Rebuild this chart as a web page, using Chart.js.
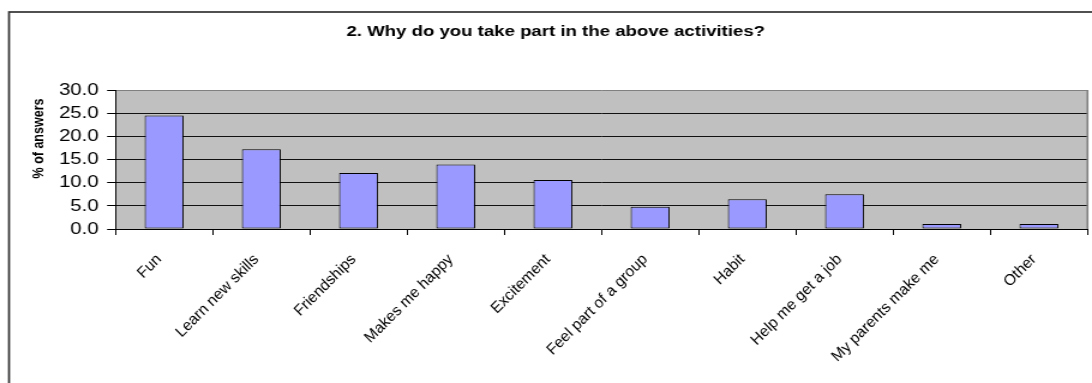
<!DOCTYPE html>
<html>
<head>
<meta charset="utf-8">
<script src="https://cdn.jsdelivr.net/npm/chart.js@4.4.1/dist/chart.umd.min.js"></script>
<style>
  html, body { margin: 0; padding: 0; background: #fff; }
</style>
</head>
<body>
<!-- drawn on a narrower canvas, shown stretched to full width -->
<canvas id="chart" width="910" height="383" style="display:block;width:1092px;height:383px"></canvas>
<script>
// -------- datos ----------
const titleText  = "2. Why do you take part in the above activities?";
const yTitleText = "% of answers";
const reasons = [
  "Fun", "Learn new skills", "Friendships", "Makes me happy", "Excitement",
  "Feel part of a group", "Habit", "Help me get a job", "My parents make me", "Other"
];
const pctAnswers = [24.5, 17.2, 12.1, 13.9, 10.6, 4.8, 6.4, 7.5, 1.1, 1.1];
const yTicks = [0, 5, 10, 15, 20, 25, 30];

const FONT = "'Liberation Sans', Arial, sans-serif";
const STRETCH = 1092 / 910;   // ancho CSS / ancho del canvas

// -------- fondo, marco, títulos y etiquetas X ----------
const framePlugin = {
  id: "frame",
  beforeDraw(chart) {
    const { ctx, chartArea: a } = chart;
    ctx.save();
    ctx.fillStyle = "#fff";
    ctx.fillRect(0, 0, chart.width, chart.height);
    ctx.fillStyle = "#c0c0c0";
    ctx.fillRect(a.left, a.top, a.right - a.left, a.bottom - a.top);
    ctx.restore();
  },
  beforeDatasetsDraw(chart) {
    const { ctx, chartArea: a } = chart;
    ctx.save();
    ctx.strokeStyle = "#808080";
    ctx.lineWidth = 1.6;
    ctx.beginPath();
    ctx.moveTo(a.right, a.top);
    ctx.lineTo(a.right, a.bottom);
    ctx.stroke();
    ctx.restore();
  },
  afterDraw(chart) {
    const { ctx, chartArea: a } = chart;
    const xs = chart.scales.x;

    // borde exterior (se sale por la derecha y por abajo)
    ctx.save();
    ctx.strokeStyle = "#333";
    ctx.lineWidth = 1.7;
    ctx.strokeRect(7.5, 12, chart.width + 10, chart.height + 10);
    ctx.restore();

    // título del eje Y
    ctx.save();
    ctx.translate(a.left - 64, (a.top + a.bottom) / 2 - 21);
    ctx.rotate(-Math.PI / 2);
    ctx.fillStyle = "#000";
    ctx.font = `bold 12.5px ${FONT}`;
    ctx.textAlign = "center";
    ctx.textBaseline = "middle";
    ctx.fillText(yTitleText, 0, 0);
    ctx.restore();

    // etiquetas X a 45°, sin la deformación del estirado
    ctx.save();
    ctx.fillStyle = "#000";
    ctx.font = `15.5px ${FONT}`;
    ctx.textAlign = "right";
    ctx.textBaseline = "middle";
    reasons.forEach((lbl, i) => {
      ctx.save();
      ctx.translate(xs.getPixelForTick(i) - 5 / STRETCH, a.bottom + 28);
      ctx.scale(1 / STRETCH, 1);
      ctx.rotate(-Math.PI / 4);
      ctx.fillText(lbl, 0, 0);
      ctx.restore();
    });
    ctx.restore();
  }
};

new Chart(document.getElementById("chart"), {
  type: "bar",
  data: {
    labels: reasons,
    datasets: [{
      data: pctAnswers,
      backgroundColor: "#9999ff",
      borderColor: "#000",
      borderWidth: 1,
      borderSkipped: false,
      categoryPercentage: 1,
      barPercentage: 0.4
    }]
  },
  options: {
    responsive: false,
    animation: false,
    devicePixelRatio: 1,
    layout: { padding: { left: 20, right: 3.75, top: 0, bottom: 0 } },
    plugins: {
      legend: { display: false },
      tooltip: { enabled: false },
      title: {
        display: true,
        text: titleText,
        color: "#000",
        font: { family: FONT, size: 15.5, weight: "bold" },
        padding: { top: 22.7, bottom: 48.7 }
      }
    },
    scales: {
      x: {
        grid: { offset: true, drawOnChartArea: false, tickLength: 6, color: "#000" },
        border: { color: "#000", width: 1 },
        ticks: { display: false, autoSkip: false },
        afterFit: (scale) => { scale.height = 154; }
      },
      y: {
        min: yTicks[0],
        max: yTicks[yTicks.length - 1],
        afterBuildTicks: (scale) => { scale.ticks = yTicks.map(v => ({ value: v })); },
        grid: {
          color: (c) => (c.tick && c.tick.value === 30 ? "#808080" : "#111"),
          tickColor: "#000",
          tickLength: 7,
          lineWidth: 1
        },
        border: { color: "#000", width: 1 },
        ticks: {
          autoSkip: false,
          padding: 7,
          color: "#000",
          font: { family: FONT, size: 17 },
          callback: (v) => Number(v).toFixed(1)
        },
        afterFit: (scale) => { scale.width = 76.25; }
      }
    }
  },
  plugins: [framePlugin]
});
</script>
</body>
</html>
